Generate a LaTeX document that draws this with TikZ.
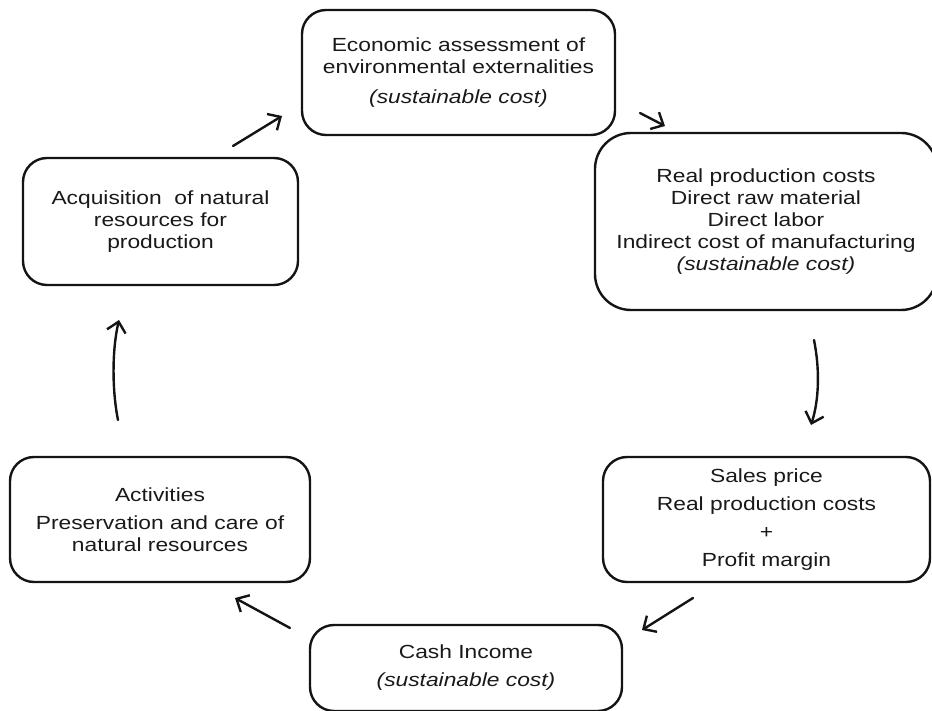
\documentclass[tikz,border=0pt]{standalone}
\usepackage{fontspec}
\setmainfont[FakeStretch=1.2]{Liberation Sans}
\usetikzlibrary{arrows.meta,calc}
\definecolor{LineClr}{rgb}{0.08,0.08,0.08}
\definecolor{TextClr}{rgb}{0.1,0.1,0.1}

\begin{document}
\begin{tikzpicture}[x=1pt,y=-1pt,
  stage/.style={draw=LineClr,line width=2.4pt,rounded corners=24pt,align=center,
    inner sep=0pt,text=TextClr,font=\fontsize{19}{22}\selectfont},
  flow/.style={-{Straight Barb[length=10pt,width=19pt,line width=2.4pt]},
    draw=LineClr,line width=2.4pt,line cap=round}]
\useasboundingbox (0,0) rectangle (932,711);

% boxes of the cycle
\node[stage,minimum width=313,minimum height=125] (econ) at (458.5,72.5)
  {Economic assessment of\\environmental externalities\\[8pt]\textit{(sustainable cost)}};
\node[stage,rounded corners=36pt,minimum width=342,minimum height=177] (real) at (766,221.5)
  {Real production costs\\Direct raw material\\Direct labor\\Indirect cost of manufacturing\\\textit{(sustainable cost)}};
\node[stage,minimum width=327,minimum height=125] (sales) at (766.5,519.5)
  {Sales price\\[6pt]Real production costs\\[6pt]+\\[6pt]Profit margin};
\node[stage,minimum width=312,minimum height=86] (cash) at (466,668)
  {Cash Income\\[6pt]\textit{(sustainable cost)}};
\node[stage,minimum width=300,minimum height=125] (act) at (160,519.5)
  {Activities\\[6pt]Preservation and care of\\natural resources};
\node[stage,minimum width=275,minimum height=127] (acq) at (160.5,221.5)
  {Acquisition~ of natural\\resources for\\production};

% free ends of the arrows
\coordinate (a1s) at (233,146);  \coordinate (a1e) at (282,116);
\coordinate (a2s) at (640,113);  \coordinate (a2e) at (665,126);
\coordinate (a3s) at (814,340);  \coordinate (a3e) at (811,425);
\coordinate (a4s) at (693,598);  \coordinate (a4e) at (642,630);
\coordinate (a5s) at (290,628);  \coordinate (a5e) at (235,598);
\coordinate (a6s) at (118,420);  \coordinate (a6e) at (119,320);

\draw[flow] (a1s) -- (a1e);
\draw[flow] (a2s) -- (a2e);
\draw[flow] (a3s) .. controls (820,370) and (819,400) .. (a3e);
\draw[flow] (a4s) -- (a4e);
\draw[flow] (a5s) -- (a5e);
\draw[flow] (a6s) .. controls (112,390) and (112,350) .. (a6e);

\end{tikzpicture}
\end{document}
